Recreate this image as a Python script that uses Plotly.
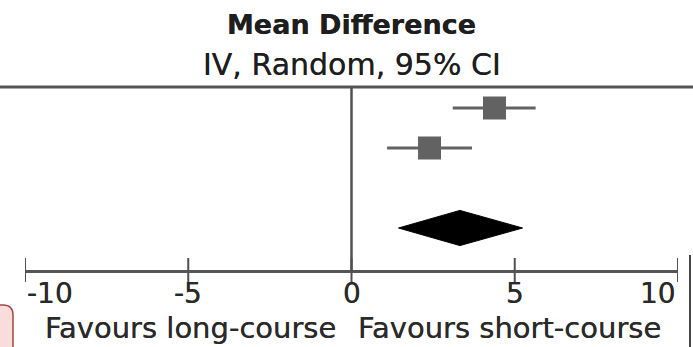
import plotly.graph_objects as go

# ---- data ----
study_rows = [1, 2]
study_md = [4.38, 2.39]
study_lo = [3.10, 1.09]
study_hi = [5.64, 3.69]

pooled_row = 4
pooled_md = 3.32
pooled_lo = 1.44
pooled_hi = 5.24

tick_values = [-10, -5, 0, 5, 10]
tick_labels = ["-10", "-5", "0", "5", "10"]
title_lines = ["Mean Difference", "IV, Random, 95% CI"]
favours_left = "Favours long-course"
favours_right = "Favours short-course"

# ---- geometry helpers ----
W, H = 693, 347
ML, MR, MT, MB = 25, 15, 87, 77
PW, PH = W - ML - MR, H - MT - MB


def px(xp):
    return (xp - ML) / PW


def py(yp):
    return (H - MB - yp) / PH


FONT = "DejaVu Sans"
SHADOW = "0px 0px 0.6px #333333"
fig = go.Figure()

# study estimates with CI
fig.add_trace(go.Scatter(
    x=study_md, y=study_rows, mode="markers",
    marker=dict(symbol="square", size=23, color="#626262"),
    error_x=dict(type="data", symmetric=False,
                 array=[h - m for h, m in zip(study_hi, study_md)],
                 arrayminus=[m - l for m, l in zip(study_md, study_lo)],
                 color="#626262", thickness=3, width=0),
    showlegend=False, hoverinfo="skip"))

# pooled diamond
half_h = 0.44
fig.add_trace(go.Scatter(
    x=[pooled_lo, pooled_md, pooled_hi, pooled_md, pooled_lo],
    y=[pooled_row, pooled_row - half_h, pooled_row, pooled_row + half_h, pooled_row],
    mode="lines", fill="toself", fillcolor="#000000",
    line=dict(color="#000000", width=1), showlegend=False, hoverinfo="skip"))

shapes = []
# top rule across whole width
shapes.append(dict(type="line", xref="paper", yref="paper",
                   x0=px(0), x1=px(W), y0=1, y1=1,
                   line=dict(color="#555555", width=3)))
# null line
shapes.append(dict(type="line", xref="x", yref="paper",
                   x0=0, x1=0, y0=0, y1=1,
                   line=dict(color="#505050", width=2.5)))
# crossing ticks
for v in tick_values:
    shapes.append(dict(type="line", xref="x", yref="paper",
                       x0=v, x1=v, y0=py(282), y1=py(258),
                       line=dict(color="#505050", width=2)))
# screenshot decorations: pink box bottom-left and right edge line
x0p, x1p = px(-5), px(13)
y0p, y1p = py(352), py(305)
r_x = 10 / PW
r_y = 10 / PH
shapes.append(dict(type="path", xref="paper", yref="paper",
                   path=(f"M {x0p},{y0p} L {x0p},{y1p} L {x1p - r_x},{y1p} "
                         f"Q {x1p},{y1p} {x1p},{y1p - r_y} L {x1p},{y0p} Z"),
                   fillcolor="#f9dcdc", line=dict(color="#a84444", width=1.5)))
shapes.append(dict(type="line", xref="paper", yref="paper",
                   x0=px(690), x1=px(690), y0=py(255), y1=py(350),
                   line=dict(color="#444444", width=2)))

annotations = []
# title
annotations.append(dict(text="<b>" + title_lines[0] + "</b>", xref="x", yref="paper",
                        x=0, y=py(24), xanchor="center", yanchor="middle",
                        showarrow=False,
                        font=dict(family=FONT, size=27, color="#1e1e1e", shadow=SHADOW)))
annotations.append(dict(text=title_lines[1], xref="x", yref="paper",
                        x=0, y=py(64), xanchor="center", yanchor="middle",
                        showarrow=False,
                        font=dict(family=FONT, size=30, color="#1e1e1e", shadow=SHADOW)))
# tick labels
for i, (v, t) in enumerate(zip(tick_values, tick_labels)):
    anchor = "center"
    if i == 0:
        anchor = "left"
    elif i == len(tick_values) - 1:
        anchor = "right"
    annotations.append(dict(text=t, xref="x", yref="paper", x=v, y=py(293),
                            xanchor=anchor, yanchor="middle", showarrow=False,
                            font=dict(family=FONT, size=28, color="#2a2a2a", shadow=SHADOW)))
# favours labels
annotations.append(dict(text=favours_left, xref="x", yref="paper", x=0, y=py(328),
                        xanchor="right", yanchor="middle", xshift=-14, showarrow=False,
                        font=dict(family=FONT, size=29, color="#2a2a2a", shadow=SHADOW)))
annotations.append(dict(text=favours_right, xref="x", yref="paper", x=0, y=py(328),
                        xanchor="left", yanchor="middle", xshift=4, showarrow=False,
                        font=dict(family=FONT, size=29, color="#2a2a2a", shadow=SHADOW)))

fig.update_layout(
    width=W, height=H, margin=dict(l=ML, r=MR, t=MT, b=MB, pad=0),
    paper_bgcolor="white", plot_bgcolor="white",
    shapes=shapes, annotations=annotations, showlegend=False,
    xaxis=dict(range=[-10, 10], showgrid=False, zeroline=False,
               showline=True, linecolor="#555555", linewidth=3,
               showticklabels=False, ticks="", fixedrange=True),
    yaxis=dict(range=[0.475 + PH / 40, 0.475], showgrid=False, zeroline=False,
               showline=False, showticklabels=False, ticks="", fixedrange=True),
)

fig.write_html("out.html")
